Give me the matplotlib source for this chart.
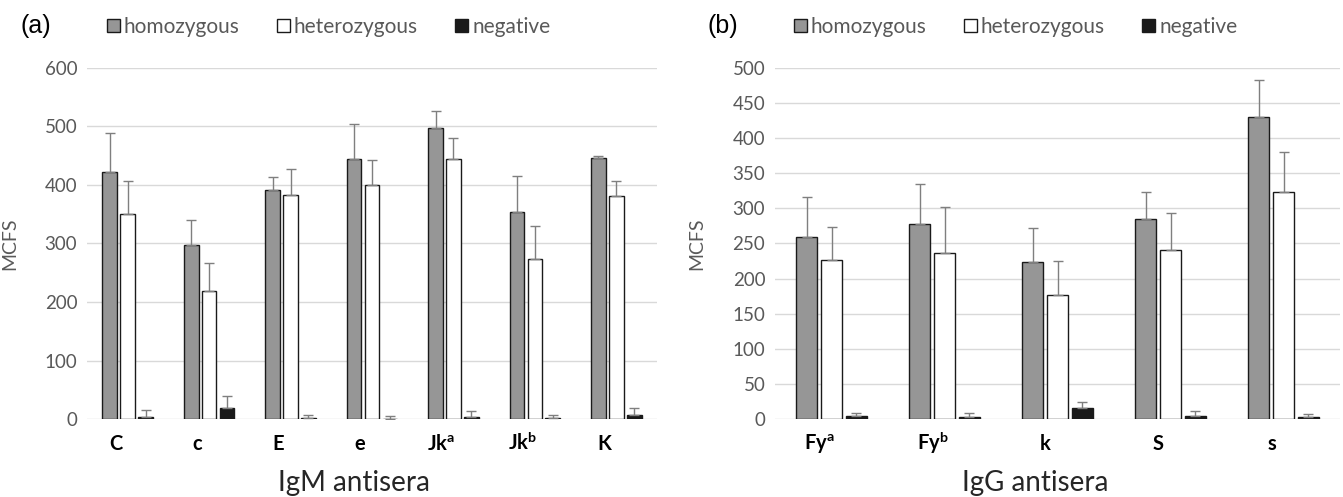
import numpy as np
import matplotlib.pyplot as plt
from matplotlib.transforms import ScaledTranslation

plt.rcParams['font.family'] = 'Lato'
plt.rcParams['mathtext.fontset'] = 'custom'
plt.rcParams['mathtext.rm'] = 'Lato:bold'
plt.rcParams['mathtext.it'] = 'Lato:bold'
plt.rcParams['mathtext.bf'] = 'Lato:bold'

# IgM antisera (panel a)
igm_labels = ['C', 'c', 'E', 'e', r'Jk$^{\mathrm{a}}$', r'Jk$^{\mathrm{b}}$', 'K']
igm_hom = [423, 298, 392, 444, 498, 354, 447]
igm_hom_top = [489, 341, 414, 505, 526, 415, 450]
igm_het = [350, 219, 383, 400, 445, 273, 382]
igm_het_top = [407, 266, 428, 443, 480, 330, 407]
igm_neg = [3, 18, 2, 0.5, 4, 1, 7]
igm_neg_top = [16, 39, 7, 5, 13, 6, 18]

# IgG antisera (panel b)
igg_labels = [r'Fy$^{\mathrm{a}}$', r'Fy$^{\mathrm{b}}$', 'k', 'S', 's']
igg_hom = [259, 278, 224, 285, 430]
igg_hom_top = [316, 335, 272, 323, 483]
igg_het = [227, 237, 176, 241, 323]
igg_het_top = [274, 302, 225, 293, 380]
igg_neg = [4, 3, 15, 4, 3]
igg_neg_top = [9, 8, 24, 12, 7]

series_names = ['homozygous', 'heterozygous', 'negative']
series_colors = ['#969696', '#ffffff', '#1a1a1a']

W, H = 1343, 497
fig = plt.figure(figsize=(W / 100, H / 100), dpi=100)


def draw_panel(rect, labels, series, tops, ymax, ystep, xlabel, tag, tag_x,
               leg_x, ylab_x, xlab_shift):
    ax = fig.add_axes([rect[0] / W, 1 - rect[3] / H,
                       (rect[2] - rect[0]) / W, (rect[3] - rect[1]) / H])
    x = np.arange(len(labels))
    bw = 0.18
    offs = [-0.22, 0.0, 0.22]
    handles = []
    for vals, top, off, col, name in zip(series, tops, offs, series_colors, series_names):
        vals = np.array(vals, dtype=float)
        err = np.array(top, dtype=float) - vals
        b = ax.bar(x + off, vals, bw, color=col, edgecolor='#1a1a1a',
                   linewidth=1.0, label=name, zorder=3)
        ax.errorbar(x + off, vals, yerr=[np.zeros_like(err), err], fmt='none',
                    ecolor='#7f7f7f', elinewidth=1.0, capsize=3.5,
                    capthick=1.0, zorder=4)
        handles.append(b)
    ax.set_xlim(-0.5, len(labels) - 0.5)
    ax.set_ylim(0, ymax)
    ax.set_yticks(np.arange(0, ymax + 1, ystep))
    ax.yaxis.grid(True, color='#d9d9d9', linewidth=1.0, zorder=0)
    ax.set_axisbelow(True)
    for s in ['top', 'right', 'left', 'bottom']:
        ax.spines[s].set_visible(False)
    ax.tick_params(axis='y', length=0, labelsize=13.5, labelcolor='#595959', pad=7)
    ax.tick_params(axis='x', length=0, labelsize=14.5, pad=22)
    ax.set_xticks(x)
    ax.set_xticklabels(labels, fontweight='bold', color='black', va='baseline')
    # category names sit a little left of the bar groups
    shift = ScaledTranslation(-12 / 100, 0, fig.dpi_scale_trans)
    for lab in ax.get_xticklabels():
        lab.set_transform(lab.get_transform() + shift)
    ax.set_ylabel('MCFS', fontsize=14, color='#595959')
    ax.yaxis.set_label_coords((ylab_x - rect[0]) / (rect[2] - rect[0]), 0.5)
    ax.set_xlabel(xlabel, fontsize=20, color='#262626')
    ax.xaxis.set_label_coords(0.5 + xlab_shift / (rect[2] - rect[0]),
                              -(483 - rect[3]) / (rect[3] - rect[1]))
    ax.xaxis.label.set_va('center')
    fig.text(tag_x / W, 1 - 26 / H, tag, fontsize=18, family='Liberation Sans',
             ha='left', va='center')
    fig.legend(handles=handles, loc='center left',
               bbox_to_anchor=(leg_x / W, 1 - 27 / H), ncol=3, frameon=False,
               fontsize=15, labelcolor='#595959', handlelength=0.6,
               handleheight=0.6, handletextpad=0.2, columnspacing=1.8,
               borderpad=0, borderaxespad=0)
    return ax


draw_panel((87, 68, 657, 419), igm_labels,
           [igm_hom, igm_het, igm_neg], [igm_hom_top, igm_het_top, igm_neg_top],
           600, 100, 'IgM antisera', '(a)', 21, 107, 18, -18)
draw_panel((775, 68, 1340, 419), igg_labels,
           [igg_hom, igg_het, igg_neg], [igg_hom_top, igg_het_top, igg_neg_top],
           500, 50, 'IgG antisera', '(b)', 708, 794, 705, -22)

fig.savefig('out.png', dpi=100)
